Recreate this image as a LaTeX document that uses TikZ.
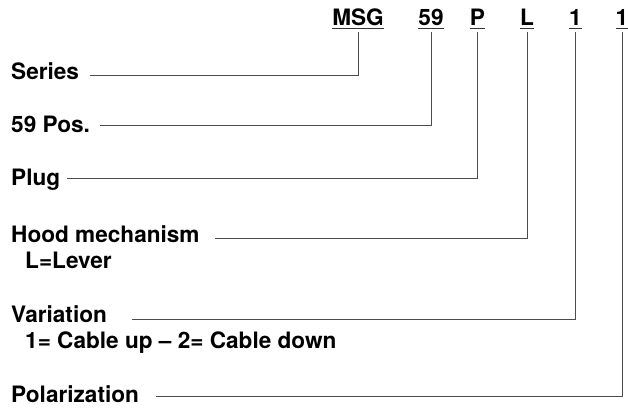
\documentclass[tikz,border=0pt]{standalone}
\usepackage{fontspec}
\setmainfont{TeX Gyre Heros}
\begin{document}
\begin{tikzpicture}[x=1pt,y=-1pt,
  lbl/.style={inner sep=0pt,anchor=base west,font=\fontsize{22.6}{26}\selectfont\bfseries},
  code/.style={inner sep=0pt,anchor=base,outer ysep=7pt,font=\fontsize{22.6}{26}\selectfont\bfseries},
  conn/.style={draw=black!70,line width=0.9pt},
  uline/.style={draw=black!80,line width=1.6pt}]
\useasboundingbox (0,0) rectangle (628,410);
% code letters
\node[code] (cMSG) at (358,25) {MSG};
\node[code] (c59) at (431,25) {59};
\node[code] (cP) at (477.5,25) {P};
\node[code] (cL) at (527,25) {L};
\node[code] (c1a) at (575.5,25) {1};
\node[code] (c1b) at (622,25) {1};
\foreach \n in {cMSG,c59,cP,cL,c1a,c1b}
  \draw[uline] ([yshift=-3.5pt]\n.base west) -- ([yshift=-3.5pt]\n.base east);
% labels
\node[lbl] (lSeries) at (11,79) {Series};
\node[lbl] (lPos) at (11,132) {59 Pos.};
\node[lbl] (lPlug) at (11,185) {Plug};
\node[lbl] (lHood) at (11,242) {Hood mechanism};
\node[lbl] (lLever) at (25,268) {L=Lever};
\node[lbl] (lVar) at (11,322) {Variation};
\node[lbl] (lCable) at (25,348) {1= Cable up – 2= Cable down};
\node[lbl] (lPol) at (11,402) {Polarization};
% connector ends
\coordinate (kSeries) at (90,75);
\coordinate (kPos) at (100,125);
\coordinate (kPlug) at (67,178);
\coordinate (kHood) at (215,238);
\coordinate (kVar) at (132,319);
\coordinate (kPol) at (156,396);
\draw[conn] (cMSG.south) |- (kSeries);
\draw[conn] (c59.south) |- (kPos);
\draw[conn] (cP.south) |- (kPlug);
\draw[conn] (cL.south) |- (kHood);
\draw[conn] (c1a.south) |- (kVar);
\draw[conn] (c1b.south) |- (kPol);
\end{tikzpicture}
\end{document}
